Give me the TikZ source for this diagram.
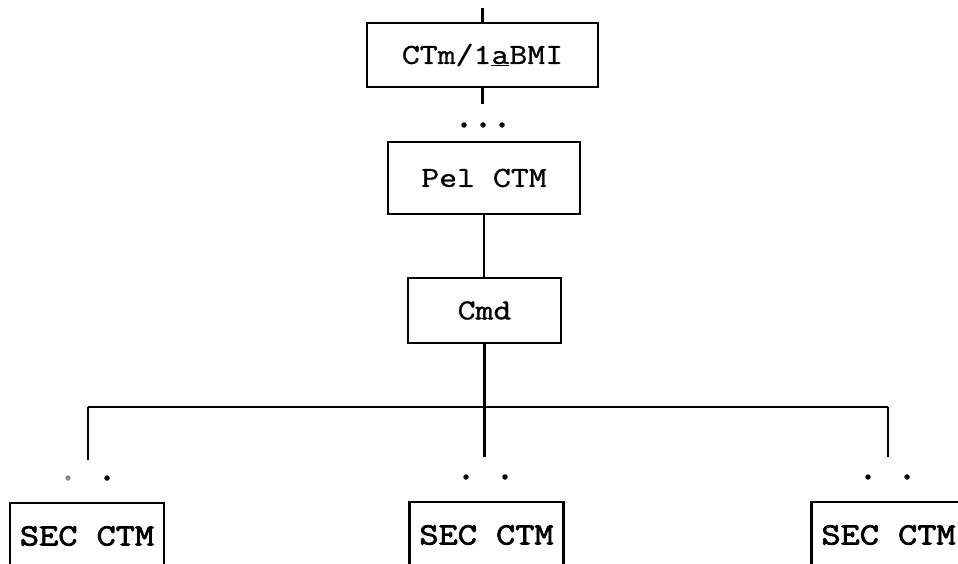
\documentclass[tikz,border=0pt]{standalone}
\usepackage{fontspec}
\newfontfamily\typew[FakeStretch=1.2,FakeBold=1]{Latin Modern Mono}
\newfontfamily\typewb[FakeStretch=1.2,FakeBold=2.5]{Latin Modern Mono}
\begin{document}
\begin{tikzpicture}[x=1pt,y=-1pt,
  box/.style={draw, line width=2.2pt, inner sep=0pt, font=\typew\fontsize{29}{29}\selectfont},
  secbox/.style={draw, line width=2.2pt, inner sep=0pt, minimum width=154pt, minimum height=66pt, font=\typewb\fontsize{31}{31}\selectfont},
  wire/.style={line width=2.4pt},
  dotmark/.style={circle, fill=black, inner sep=0pt, minimum size=5.5pt},
  faintdot/.style={circle, fill=black!45, inner sep=0pt, minimum size=5.5pt}]
\useasboundingbox (0,0) rectangle (958,564);
\fill[white] (0,0) rectangle (958,564);
\clip (0,0) rectangle (958,564);

% top box
\node[box, minimum width=231pt, minimum height=64pt] (top) at (482.5,55) {CTm/1\underline{a}BMI};
\coordinate (topin) at (482.5,8);
\coordinate (topout) at (482.5,104);
\draw[wire] (topin) -- (top.north);
\draw[wire] (top.south) -- (topout);
\node[dotmark] (u1) at (464,125) {};
\node[dotmark] (u2) at (483,125) {};
\node[dotmark] (u3) at (502,125) {};

% middle chain
\node[box, minimum width=192pt, minimum height=72pt] (pel) at (484,178) {Pel CTM};
\node[box, minimum width=153pt, minimum height=65pt] (cmd) at (484.5,310.5) {Cmd};
\draw[wire] (pel.south) -- (pel.south |- cmd.north);

% distribution
\coordinate (jl) at (88,407);
\coordinate (jc) at (484.5,407);
\coordinate (jr) at (888,407);
\coordinate (el) at (88,460);
\coordinate (ec) at (484.5,457);
\coordinate (er) at (888,457);
\draw[wire] (cmd.south) -- (jc) -- (ec);
\draw[wire] (jl) -- (jr);
\draw[wire] (jl) -- (el);
\draw[wire] (jr) -- (er);

% dots below branches
\node[faintdot] (l1) at (68,478) {};
\node[dotmark] (l2) at (107,478) {};
\node[dotmark] (c1) at (466,477) {};
\node[dotmark] (c2) at (505,477) {};
\node[dotmark] (r1) at (868,477) {};
\node[dotmark] (r2) at (907,477) {};

% bottom boxes
\node[secbox] (s1) at (87,536) {SEC CTM};
\node[secbox] (s2) at (486.5,535) {SEC CTM};
\node[secbox] (s3) at (888.5,535) {SEC CTM};
\end{tikzpicture}
\end{document}
